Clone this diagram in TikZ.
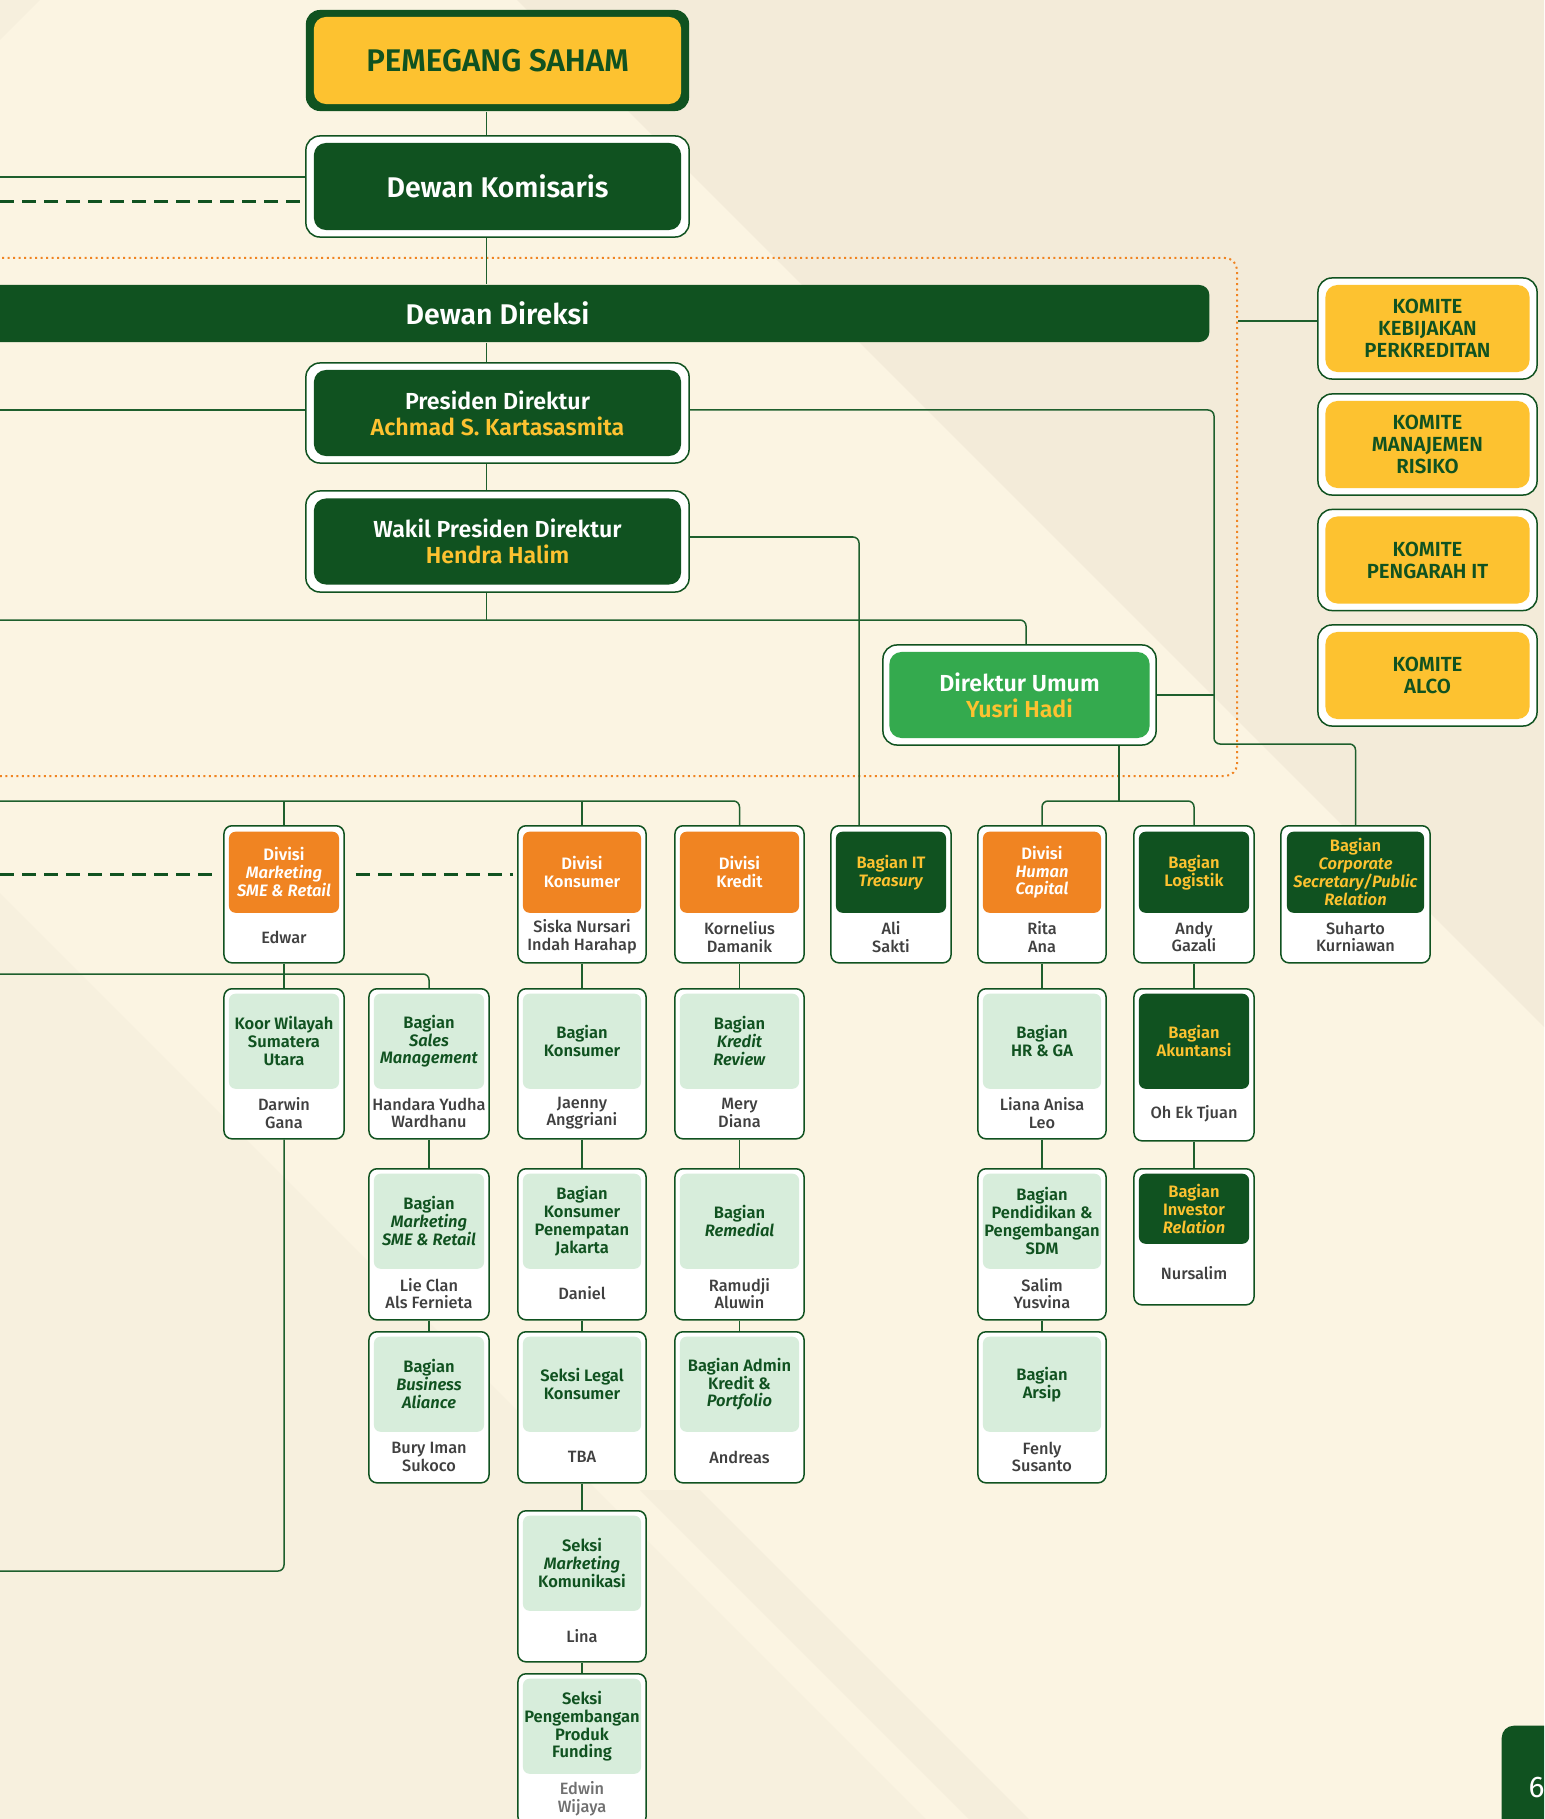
\documentclass[tikz,border=0pt]{standalone}
\usepackage{fontspec}
\setmainfont{Fira Sans}[BoldFont={Fira Sans SemiBold}, BoldItalicFont={Fira Sans SemiBold Italic}]
\newfontfamily\medfont{Fira Sans Medium}

\definecolor{dgreen}{RGB}{16,82,32}
\definecolor{linegreen}{RGB}{30,95,45}
\definecolor{lgreen}{RGB}{215,237,219}
\definecolor{mgreen}{RGB}{52,170,78}
\definecolor{ylw}{RGB}{253,194,48}
\definecolor{orng}{RGB}{240,132,34}
\definecolor{bgcream}{RGB}{251,244,226}
\definecolor{bgbeige}{RGB}{243,235,217}
\definecolor{namegray}{RGB}{64,64,64}

\newcommand{\psfont}{\fontsize{8.9pt}{10pt}\selectfont\bfseries}
\newcommand{\bigfont}{\fontsize{8.1pt}{9pt}\selectfont\bfseries}
\newcommand{\dirfont}{\fontsize{6.6pt}{7.4pt}\selectfont\bfseries}
\newcommand{\komfont}{\fontsize{5.8pt}{6.26pt}\selectfont\bfseries}
\newcommand{\unitfont}{\fontsize{4.7pt}{5.1pt}\selectfont\bfseries}
\newcommand{\personfont}{\fontsize{4.65pt}{5.05pt}\selectfont\medfont}
\newcommand{\pagefont}{\fontsize{8.5pt}{9pt}\selectfont}

\begin{document}
\begin{tikzpicture}[x=0.01cm, y=-0.01cm,
  link/.style={draw=linegreen, line width=0.015cm},
  elbow/.style={link, rounded corners=0.06cm},
  dashline/.style={draw=dgreen, line width=0.03cm, dash pattern=on 0.14cm off 0.08cm},
  dotline/.style={draw=orng, line width=0.02cm, dash pattern=on 0.02cm off 0.035cm, rounded corners=0.12cm},
  bigframe/.style={draw=dgreen, fill=white, line width=0.015cm, rounded corners=0.14cm, inner sep=0pt},
  bigbox/.style={rounded corners=0.12cm, inner sep=0pt, align=center},
  unit/.style={draw=dgreen, fill=white, line width=0.015cm, rounded corners=0.08cm, anchor=north, inner sep=0pt},
  unithead/.style={rounded corners=0.065cm, anchor=north, inner sep=0pt, align=center, font=\unitfont},
  orangehead/.style={unithead, fill=orng, text=white},
  darkhead/.style={unithead, fill=dgreen, text=ylw},
  lighthead/.style={unithead, fill=lgreen, text=dgreen},
  person/.style={align=center, inner sep=0pt, font=\personfont, text=namegray}]

\useasboundingbox (0,0) rectangle (1544,1819);
\clip (0,0) rectangle (1544,1819);
% background
\fill[bgcream] (0,0) rectangle (1544,1819);
\fill[bgbeige] (517,0) -- (1544,0) -- (1544,1027) -- cycle;
\fill[bgbeige!45!bgcream] (0,893) -- (926,1819) -- (0,1819) -- cycle;
\fill[bgbeige!70!bgcream] (640,1490) -- (700,1490) -- (1029,1819) -- (969,1819) -- cycle;
\fill[bgbeige!60!bgcream] (0,0) -- (40,0) -- (0,40) -- cycle;

% top of the chart
\node[bigframe, fill=dgreen, draw=none, minimum width=3.83cm, minimum height=1.01cm] (ps) at (497.5,60.5) {};
\node[bigbox, fill=ylw, text=dgreen, font=\psfont, minimum width=3.67cm, minimum height=0.87cm] (ps-t) at (497.5,60.5) {PEMEGANG SAHAM};
\node[bigframe, minimum width=3.83cm, minimum height=1.01cm] (dk) at (497.5,186.5) {};
\node[bigbox, fill=dgreen, text=white, font=\bigfont, minimum width=3.67cm, minimum height=0.87cm] (dk-t) at (497.5,186.5) {Dewan Komisaris};
\node[fill=dgreen, rounded corners=0.1cm, minimum width=12.3cm, minimum height=0.57cm, inner sep=0pt] (dd) at (594,313.5) {};
\node[text=white, font=\bigfont, inner sep=0pt] (dd-t) at (497.5,313.5) {Dewan Direksi};
\node[bigframe, minimum width=3.83cm, minimum height=1.0cm] (pd) at (497.5,413) {};
\node[bigbox, fill=dgreen, text=white, font=\dirfont, minimum width=3.67cm, minimum height=0.86cm] (pd-t) at (497.5,413) {Presiden Direktur\\\textcolor{ylw}{Achmad S. Kartasasmita}};
\node[bigframe, minimum width=3.83cm, minimum height=1.01cm] (wpd) at (497.5,541.5) {};
\node[bigbox, fill=dgreen, text=white, font=\dirfont, minimum width=3.67cm, minimum height=0.86cm] (wpd-t) at (497.5,541.5) {Wakil Presiden Direktur\\\textcolor{ylw}{Hendra Halim}};
\node[bigframe, minimum width=2.73cm, minimum height=1.0cm] (du) at (1019.5,695) {};
\node[bigbox, fill=mgreen, text=white, font=\dirfont, minimum width=2.6cm, minimum height=0.86cm] (du-t) at (1019.5,695) {Direktur Umum\\\textcolor{ylw}{Yusri Hadi}};

% komite
\node[bigframe, minimum width=2.19cm, minimum height=1.01cm] (k1) at (1427.5,328.5) {};
\node[bigbox, fill=ylw, text=dgreen, font=\komfont, minimum width=2.04cm, minimum height=0.87cm] (k1-t) at (1427.5,328.5) {KOMITE\\KEBIJAKAN\\PERKREDITAN};
\node[bigframe, minimum width=2.19cm, minimum height=1.01cm] (k2) at (1427.5,444.5) {};
\node[bigbox, fill=ylw, text=dgreen, font=\komfont, minimum width=2.04cm, minimum height=0.87cm] (k2-t) at (1427.5,444.5) {KOMITE\\MANAJEMEN\\RISIKO};
\node[bigframe, minimum width=2.19cm, minimum height=1.01cm] (k3) at (1427.5,560) {};
\node[bigbox, fill=ylw, text=dgreen, font=\komfont, minimum width=2.04cm, minimum height=0.87cm] (k3-t) at (1427.5,560) {KOMITE\\PENGARAH IT};
\node[bigframe, minimum width=2.19cm, minimum height=1.01cm] (k4) at (1427.5,675.5) {};
\node[bigbox, fill=ylw, text=dgreen, font=\komfont, minimum width=2.04cm, minimum height=0.87cm] (k4-t) at (1427.5,675.5) {KOMITE\\ALCO};

% first row
\node[unit, minimum width=1.2cm, minimum height=1.37cm] (divmkt) at (284,825) {};
\node[orangehead, minimum width=1.1cm, minimum height=0.81cm] (divmkt-h) at (284,831) {Divisi\\\textit{Marketing}\\\textit{SME \& Retail}};
\node[person] (divmkt-n) at (284,937) {Edwar};
\node[unit, minimum width=1.28cm, minimum height=1.37cm] (divkons) at (582,825) {};
\node[orangehead, minimum width=1.18cm, minimum height=0.81cm] (divkons-h) at (582,831) {Divisi\\Konsumer};
\node[person] (divkons-n) at (582,937) {Siska Nursari\\Indah Harahap};
\node[unit, minimum width=1.29cm, minimum height=1.37cm] (divkred) at (739.5,825) {};
\node[orangehead, minimum width=1.19cm, minimum height=0.81cm] (divkred-h) at (739.5,831) {Divisi\\Kredit};
\node[person] (divkred-n) at (739.5,937) {Kornelius\\Damanik};
\node[unit, minimum width=1.2cm, minimum height=1.37cm] (bagit) at (891,825) {};
\node[darkhead, minimum width=1.1cm, minimum height=0.81cm] (bagit-h) at (891,831) {Bagian IT\\\textit{Treasury}};
\node[person] (bagit-n) at (891,937) {Ali\\Sakti};
\node[unit, minimum width=1.28cm, minimum height=1.37cm] (divhc) at (1042,825) {};
\node[orangehead, minimum width=1.18cm, minimum height=0.81cm] (divhc-h) at (1042,831) {Divisi\\\textit{Human}\\\textit{Capital}};
\node[person] (divhc-n) at (1042,937) {Rita\\Ana};
\node[unit, minimum width=1.2cm, minimum height=1.37cm] (baglog) at (1194,825) {};
\node[darkhead, minimum width=1.1cm, minimum height=0.81cm] (baglog-h) at (1194,831) {Bagian\\Logistik};
\node[person] (baglog-n) at (1194,937) {Andy\\Gazali};
\node[unit, minimum width=1.49cm, minimum height=1.37cm] (bagcs) at (1355.5,825) {};
\node[darkhead, minimum width=1.37cm, minimum height=0.81cm] (bagcs-h) at (1355.5,831) {Bagian\\\textit{Corporate}\\\textit{Secretary/Public}\\\textit{Relation}};
\node[person] (bagcs-n) at (1355.5,937) {Suharto\\Kurniawan};

% second row
\node[unit, minimum width=1.2cm, minimum height=1.5cm] (koorsu) at (284,988) {};
\node[lighthead, minimum width=1.1cm, minimum height=0.95cm] (koorsu-h) at (284,993) {Koor Wilayah\\Sumatera\\Utara};
\node[person] (koorsu-n) at (284,1113) {Darwin\\Gana};
\node[unit, minimum width=1.2cm, minimum height=1.5cm] (bagsales) at (429,988) {};
\node[lighthead, minimum width=1.1cm, minimum height=0.95cm] (bagsales-h) at (429,993) {Bagian\\\textit{Sales}\\\textit{Management}};
\node[person] (bagsales-n) at (429,1113) {Handara Yudha\\Wardhanu};
\node[unit, minimum width=1.28cm, minimum height=1.5cm] (bagkons) at (582,988) {};
\node[lighthead, minimum width=1.18cm, minimum height=0.95cm] (bagkons-h) at (582,993) {Bagian\\Konsumer};
\node[person] (bagkons-n) at (582,1113) {Jaenny\\Anggriani};
\node[unit, minimum width=1.29cm, minimum height=1.5cm] (bagkr) at (739.5,988) {};
\node[lighthead, minimum width=1.19cm, minimum height=0.95cm] (bagkr-h) at (739.5,993) {Bagian\\\textit{Kredit}\\\textit{Review}};
\node[person] (bagkr-n) at (739.5,1113) {Mery\\Diana};
\node[unit, minimum width=1.28cm, minimum height=1.5cm] (baghr) at (1042,988) {};
\node[lighthead, minimum width=1.18cm, minimum height=0.95cm] (baghr-h) at (1042,993) {Bagian\\HR \& GA};
\node[person] (baghr-n) at (1042,1113) {Liana Anisa\\Leo};
\node[unit, minimum width=1.2cm, minimum height=1.52cm] (bagakun) at (1194,988) {};
\node[darkhead, minimum width=1.1cm, minimum height=0.95cm] (bagakun-h) at (1194,993) {Bagian\\Akuntansi};
\node[person] (bagakun-n) at (1194,1114) {Oh Ek Tjuan};

% third row
\node[unit, minimum width=1.2cm, minimum height=1.51cm] (bagmkt) at (429,1168) {};
\node[lighthead, minimum width=1.1cm, minimum height=0.95cm] (bagmkt-h) at (429,1173) {Bagian\\\textit{Marketing}\\\textit{SME \& Retail}};
\node[person] (bagmkt-n) at (429,1293.5) {Lie Clan\\Als Fernieta};
\node[unit, minimum width=1.28cm, minimum height=1.51cm] (bagkpj) at (582,1168) {};
\node[lighthead, minimum width=1.18cm, minimum height=0.95cm] (bagkpj-h) at (582,1173) {Bagian\\Konsumer\\Penempatan\\Jakarta};
\node[person] (bagkpj-n) at (582,1293.5) {Daniel};
\node[unit, minimum width=1.29cm, minimum height=1.51cm] (bagrem) at (739.5,1168) {};
\node[lighthead, minimum width=1.19cm, minimum height=0.95cm] (bagrem-h) at (739.5,1173) {Bagian\\\textit{Remedial}};
\node[person] (bagrem-n) at (739.5,1293.5) {Ramudji\\Aluwin};
\node[unit, minimum width=1.28cm, minimum height=1.51cm] (bagpend) at (1042,1168) {};
\node[lighthead, minimum width=1.18cm, minimum height=0.95cm] (bagpend-h) at (1042,1173) {Bagian\\Pendidikan \&\\Pengembangan\\SDM};
\node[person] (bagpend-n) at (1042,1293.5) {Salim\\Yusvina};
\node[unit, minimum width=1.2cm, minimum height=1.36cm] (bagir) at (1194,1168) {};
\node[darkhead, minimum width=1.1cm, minimum height=0.7cm] (bagir-h) at (1194,1173) {Bagian\\Investor\\\textit{Relation}};
\node[person] (bagir-n) at (1194,1273.5) {Nursalim};

% fourth row
\node[unit, minimum width=1.2cm, minimum height=1.51cm] (bagba) at (429,1331) {};
\node[lighthead, minimum width=1.1cm, minimum height=0.95cm] (bagba-h) at (429,1336) {Bagian\\\textit{Business}\\\textit{Aliance}};
\node[person] (bagba-n) at (429,1457) {Bury Iman\\Sukoco};
\node[unit, minimum width=1.28cm, minimum height=1.51cm] (seklegal) at (582,1331) {};
\node[lighthead, minimum width=1.18cm, minimum height=0.95cm] (seklegal-h) at (582,1336) {Seksi Legal\\Konsumer};
\node[person] (seklegal-n) at (582,1457) {TBA};
\node[unit, minimum width=1.29cm, minimum height=1.51cm] (bagadm) at (739.5,1331) {};
\node[lighthead, minimum width=1.19cm, minimum height=0.95cm] (bagadm-h) at (739.5,1336) {Bagian Admin\\Kredit \&\\\textit{Portfolio}};
\node[person] (bagadm-n) at (739.5,1457) {Andreas};
\node[unit, minimum width=1.28cm, minimum height=1.51cm] (bagarsip) at (1042,1331) {};
\node[lighthead, minimum width=1.18cm, minimum height=0.95cm] (bagarsip-h) at (1042,1336) {Bagian\\Arsip};
\node[person] (bagarsip-n) at (1042,1457) {Fenly\\Susanto};

% konsumer column
\node[unit, minimum width=1.28cm, minimum height=1.51cm] (sekmk) at (582,1510) {};
\node[lighthead, minimum width=1.18cm, minimum height=0.95cm] (sekmk-h) at (582,1515) {Seksi\\\textit{Marketing}\\Komunikasi};
\node[person] (sekmk-n) at (582,1636) {Lina};
\node[unit, minimum width=1.28cm, minimum height=1.51cm] (sekppf) at (582,1673) {};
\node[lighthead, minimum width=1.18cm, minimum height=0.95cm] (sekppf-h) at (582,1678) {Seksi\\Pengembangan\\Produk\\Funding};
\node[person, text=namegray!75] (sekppf-n) at (582,1798.5) {Edwin\\Wijaya};

% page tab
\node[fill=dgreen, rounded corners=0.12cm, minimum width=0.8cm, minimum height=1.2cm, anchor=north west, inner sep=0pt] (pg) at (1501,1725) {};
\node[text=white, font=\pagefont, anchor=west, inner sep=0pt] (pg-n) at (1528,1788) {6};

% connectors
\coordinate (spine) at (486.5,620);
\coordinate (kl) at (0,177);
\coordinate (kd) at (0,202);
\coordinate (pl) at (0,410);
\coordinate (kf) at (1238,321);
\coordinate (itj) at (859,537);
\coordinate (duj) at (1026,620);
\coordinate (rb) at (1214,744);
\coordinate (hcj) at (1119,801);
\coordinate (l620) at (0,620);
\coordinate (l801) at (0,801);
\coordinate (l874) at (0,874);
\coordinate (l974) at (0,974);
\coordinate (l1571) at (0,1571);

\draw[dotline] (-20,258) -- (1237,258) -- (1237,776) -- (-20,776);
\draw[link] (spine |- ps.south) -- (spine |- dk.north);
\draw[link] (spine |- dk.south) -- (spine |- dd.north);
\draw[link] (spine |- dd.south) -- (spine |- pd.north);
\draw[link] (spine |- pd.south) -- (spine |- wpd.north);
\draw[link] (spine |- wpd.south) -- (spine);
\draw[elbow] (l620) -| (duj |- du.north);
\draw[link] (kl) -- (kl -| dk.west);
\draw[dashline] (kd) -- (kd -| dk.west);
\draw[link] (pl) -- (pl -| pd.west);
\draw[elbow] (pl -| pd.east) -| (rb) -| (bagcs.north);
\draw[link] (du.east) -- (du.east -| rb);
\draw[elbow] (itj -| wpd.east) -| (itj |- bagit.north);
\draw[link] (kf) -- (kf -| k1.west);
\draw[link] (hcj |- du.south) -- (hcj);
\draw[elbow] (divhc.north) |- (hcj) -| (baglog.north);

\draw[elbow] (l801) -| (divkred.north);
\draw[link] (divmkt.north |- l801) -- (divmkt.north);
\draw[link] (divkons.north |- l801) -- (divkons.north);
\draw[dashline] (l874) -- ([xshift=-0.07cm]l874 -| divmkt.west);
\draw[dashline] ([xshift=0.11cm]l874 -| divmkt.east) -- ([xshift=-0.04cm]l874 -| divkons.west);
\draw[link] (divmkt.south) -- (koorsu.north);
\draw[elbow] (koorsu.south) |- (l1571);
\draw[elbow] (l974) -| (bagsales.north);
\draw[link] (bagsales.south) -- (bagmkt.north);
\draw[link] (bagmkt.south) -- (bagba.north);
\draw[link] (divkons.south) -- (bagkons.north);
\draw[link] (bagkons.south) -- (bagkpj.north);
\draw[link] (bagkpj.south) -- (seklegal.north);
\draw[link] (seklegal.south) -- (sekmk.north);
\draw[link] (sekmk.south) -- (sekppf.north);
\draw[link] (divkred.south) -- (bagkr.north);
\draw[link] (bagkr.south) -- (bagrem.north);
\draw[link] (bagrem.south) -- (bagadm.north);
\draw[link] (divhc.south) -- (baghr.north);
\draw[link] (baghr.south) -- (bagpend.north);
\draw[link] (bagpend.south) -- (bagarsip.north);
\draw[link] (baglog.south) -- (bagakun.north);
\draw[link] (bagakun.south) -- (bagir.north);
\end{tikzpicture}
\end{document}
